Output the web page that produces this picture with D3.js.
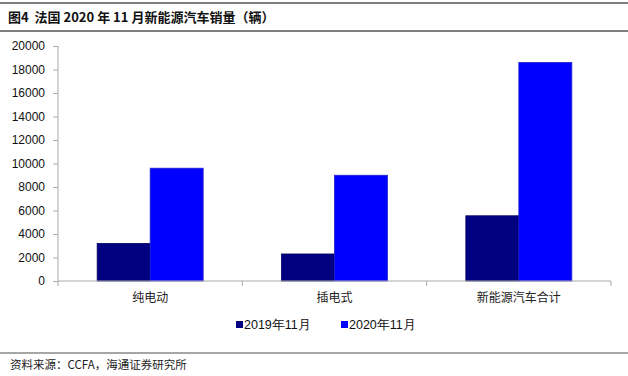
<!DOCTYPE html>
<html><head><meta charset="utf-8">
<script src="https://cdn.jsdelivr.net/npm/d3@7"></script>
<style>body{margin:0;background:#fff}svg{display:block}text{white-space:pre}</style>
</head><body>
<svg id="c" width="628" height="376"></svg>
<script>
const categories = ["纯电动", "插电式", "新能源汽车合计"];
const seriesNames = ["2019年11月", "2020年11月"];
const values2019 = [3200, 2300, 5550];
const values2020 = [9600, 9000, 18600];
const yTicks = [0, 2000, 4000, 6000, 8000, 10000, 12000, 14000, 16000, 18000, 20000];
const colors = ["#000080", "#0000FF"];

const svg = d3.select("#c");
const font = "'Liberation Sans', Arial, sans-serif";
const cjk = "'Noto Sans CJK SC', sans-serif";

// frame lines
svg.append("line").attr("x1",0).attr("x2",628).attr("y1",3).attr("y2",3).attr("stroke","#555").attr("stroke-width",1.5);
svg.append("line").attr("x1",0).attr("x2",628).attr("y1",31).attr("y2",31).attr("stroke","#555").attr("stroke-width",1.5);
svg.append("line").attr("x1",0).attr("x2",628).attr("y1",353).attr("y2",353).attr("stroke","#888").attr("stroke-width",1.5);

svg.append("text").attr("x",8).attr("y",22).attr("font-family",cjk).attr("font-weight","bold").attr("font-size",13).attr("fill","#111")
  .text("图4  法国 2020 年 11 月新能源汽车销量（辆）");
svg.append("text").attr("x",10).attr("y",369).attr("font-family",cjk).attr("font-size",11.5).attr("fill","#222")
  .text("资料来源：CCFA，海通证券研究所");

const x0 = d3.scaleBand().domain(categories).range([58, 611]);
const x1 = d3.scaleBand().domain(seriesNames).range([0, 106]);
const y = d3.scaleLinear().domain([0, 20000]).range([281, 46]);

const g = svg.append("g");
const yAxis = g.append("g").attr("transform","translate(58,0)")
  .call(d3.axisLeft(y).tickValues(yTicks).tickSize(5).tickPadding(8).tickFormat(d3.format("d")));
yAxis.selectAll("text").attr("font-family",font).attr("font-size",12).attr("fill","#111");
yAxis.selectAll("line,path").attr("stroke","#aaa");
yAxis.select("path").attr("d","M0,46V281");

const data = categories.map((c,i)=>({c, v:[values2019[i], values2020[i]]}));
const grp = g.selectAll(".cat").data(data).join("g")
  .attr("transform", d => `translate(${x0(d.c) + x0.bandwidth()/2 - 53},0)`);
grp.selectAll("rect").data(d => d.v.map((v,j)=>({v, s:seriesNames[j], j}))).join("rect")
  .attr("x", d => x1(d.s)).attr("width", x1.bandwidth())
  .attr("y", d => y(d.v)).attr("height", d => y(0) - y(d.v))
  .attr("fill", d => colors[d.j]).attr("stroke", d => d.j ? "#2222cc" : "#000066").attr("stroke-width",0.8);

const xAxis = g.append("g").attr("transform","translate(0,281)")
  .call(d3.axisBottom(x0).tickSize(0).tickPadding(12));
xAxis.select("path").attr("stroke","#aaa").attr("d","M58,0H611");
xAxis.selectAll("text").attr("font-family",cjk).attr("font-size",12).attr("fill","#222");
// category separator ticks
g.selectAll(".sep").data([58, ...categories.map(c => x0(c) + x0.bandwidth())]).join("line")
  .attr("x1",d=>d).attr("x2",d=>d).attr("y1",281).attr("y2",286).attr("stroke","#aaa");

// legend
const leg = svg.append("g");
const lx = [236, 341];
seriesNames.forEach((s,i)=>{
  leg.append("rect").attr("x",lx[i]).attr("y",321).attr("width",7).attr("height",7).attr("fill",colors[i]);
  leg.append("text").attr("x",lx[i]+8).attr("y",329).attr("font-family",font).attr("font-size",12.5).attr("fill","#111").text(s);
});
</script>
</body></html>
